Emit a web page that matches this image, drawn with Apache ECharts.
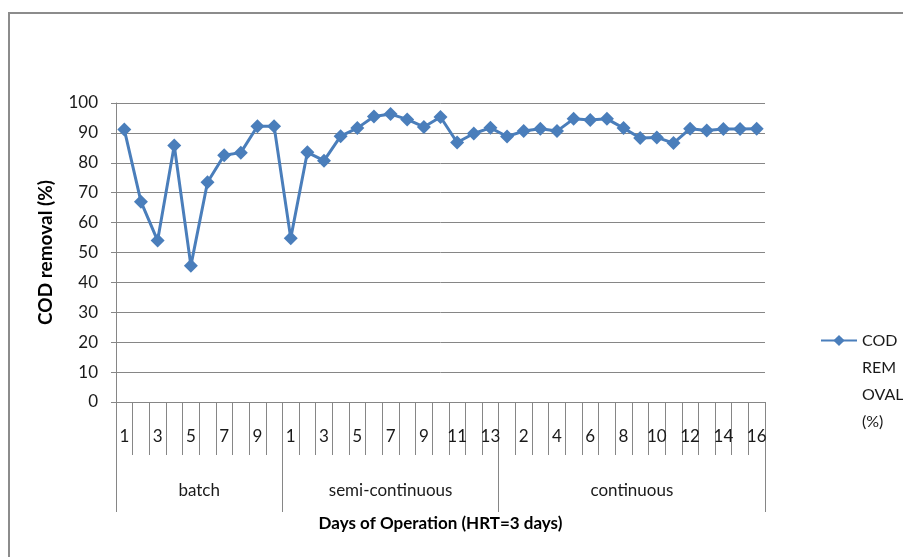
<!DOCTYPE html>
<html>
<head>
<meta charset="utf-8">
<script src="https://cdn.jsdelivr.net/npm/echarts@6/dist/echarts.min.js"></script>
<style>
  html, body { margin: 0; padding: 0; background: #fff; }
  #frame { position: absolute; left: 8px; top: 12px; width: 900px; height: 550px;
           border-left: 2px solid #8c8c8c; border-top: 2px solid #8c8c8c; }
  #main { position: absolute; left: 0; top: 0; width: 903px; height: 557px; }
</style>
</head>
<body>
<div id="frame"></div>
<div id="main"></div>
<script>
'use strict';

// values, per operating phase
const groupNames = ['batch', 'semi-continuous', 'continuous'];
const batch = [91.1, 67, 54, 85.8, 45.6, 73.5, 82.5, 83.4, 92.2, 92.2];
const semiContinuous = [54.8, 83.5, 80.7, 88.9, 91.6, 95.5, 96.3, 94.5, 92, 95.3, 86.8, 89.8, 91.7];
const continuous = [88.8, 90.6, 91.4, 90.6, 94.7, 94.3, 94.7, 91.6, 88.3, 88.5, 86.6, 91.4, 90.8, 91.3, 91.3, 91.4];
const yTicks = [0, 10, 20, 30, 40, 50, 60, 70, 80, 90, 100];

const groups = [batch, semiContinuous, continuous];
let days = [], values = [], bounds = [0], mids = [];
groups.forEach(function (g) {
  g.forEach(function (v, i) { days.push(String(i + 1)); values.push(v); });
  let start = bounds[bounds.length - 1];
  bounds.push(start + g.length);
  mids.push(start + g.length / 2);
});

const font = 'Lato, "Liberation Sans", sans-serif';
const grey = '#868686';

let chart = echarts.init(document.getElementById('main'));
chart.setOption({
  animation: false,
  textStyle: {fontFamily: font},
  grid: {left: 116, right: 138, top: 103, bottom: 155},
  legend: {
    left: 820, top: 246, padding: 0,
    itemWidth: 36, itemHeight: 14,
    textStyle: {fontSize: 16, color: '#1a1a1a', lineHeight: 27},
    // blank lines on top keep the first text line level with the icon
    formatter: function () { return '\n\n\nCOD\nREM\nOVAL\n(%)'; },
    data: ['COD REMOVAL (%)']
  },
  xAxis: [{
    type: 'category',
    data: days,
    boundaryGap: true,
    name: 'Days of Operation (HRT=3 days)',
    nameLocation: 'middle',
    nameGap: 113,
    nameTextStyle: {fontSize: 17, fontWeight: 'bold', color: '#000'},
    axisLine: {show: true, lineStyle: {color: grey}},
    axisTick: {show: true, interval: 0, length: 53, lineStyle: {color: grey}},
    axisLabel: {interval: 1, margin: 26, fontSize: 17, color: '#1a1a1a'}
  }, {
    type: 'value',
    position: 'bottom',
    min: 0,
    max: bounds[bounds.length - 1],
    axisLine: {show: false},
    splitLine: {show: false},
    axisTick: {show: true, length: 110, customValues: bounds, lineStyle: {color: grey}},
    axisLabel: {
      margin: 80, fontSize: 17, color: '#1a1a1a',
      customValues: mids,
      formatter: function (v) { return groupNames[mids.indexOf(v)] || ''; }
    }
  }],
  yAxis: {
    type: 'value',
    min: yTicks[0],
    max: yTicks[yTicks.length - 1],
    interval: 10,
    name: 'COD removal (%)',
    nameLocation: 'middle',
    nameGap: 61,
    nameTextStyle: {fontSize: 19, fontWeight: 'bold', color: '#000'},
    axisLine: {show: true, lineStyle: {color: grey}},
    axisTick: {show: true, length: 5, lineStyle: {color: grey}},
    axisLabel: {margin: 18, fontSize: 17, color: '#1a1a1a'},
    splitLine: {lineStyle: {color: grey, width: 1}}
  },
  series: [{
    name: 'COD REMOVAL (%)',
    type: 'line',
    data: values,
    symbol: 'diamond',
    symbolSize: 14,
    showSymbol: true,
    showAllSymbol: true,
    lineStyle: {color: '#4a7ebb', width: 3},
    itemStyle: {color: '#4a7ebb'}
  }]
});
</script>
</body>
</html>
